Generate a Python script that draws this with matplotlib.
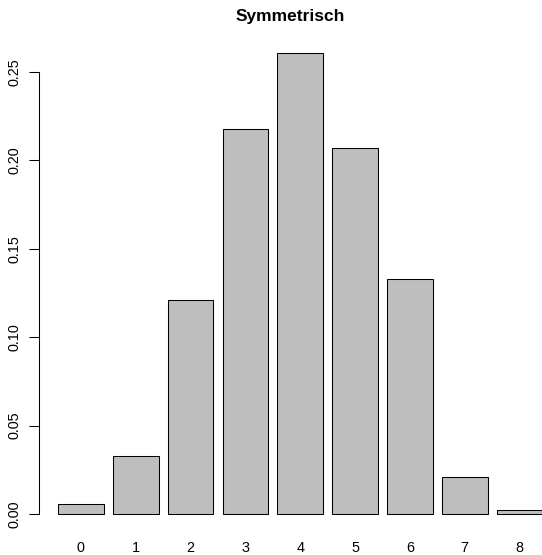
import numpy as np
import matplotlib.pyplot as plt

categories = ["0", "1", "2", "3", "4", "5", "6", "7", "8"]
values = [0.0057, 0.0328, 0.121, 0.218, 0.261, 0.207, 0.133, 0.021, 0.0023]
yticks = [0.00, 0.05, 0.10, 0.15, 0.20, 0.25]

plt.rcParams['font.family'] = ['Liberation Sans', 'DejaVu Sans']

fig = plt.figure(figsize=(5.42, 5.55), dpi=100)
# axes placed like R's plot region (right side runs past the image edge)
ax = fig.add_axes([38.6 / 542, 25 / 555, 523.2 / 542, 490 / 555])

# R barplot: width 1, space 0.2
x = 0.7 + 1.2 * np.arange(len(values))
ax.bar(x, values, width=1.0, color="#bebebe", edgecolor="black", linewidth=0.75)

ax.set_xlim(-0.224, 11.224)
ax.set_ylim(-0.00905, 0.2681)

for s in ["top", "right", "bottom"]:
    ax.spines[s].set_visible(False)
ax.spines["left"].set_bounds(0, 0.25)
ax.spines["left"].set_linewidth(0.75)

ax.set_yticks(yticks)
ax.set_yticklabels(["%.2f" % v for v in yticks], rotation=90, va="center")
ax.tick_params(axis="y", length=7.2, width=0.75, pad=5, labelsize=10.4)

ax.set_xticks(x)
ax.set_xticklabels(categories)
ax.tick_params(axis="x", length=0, pad=8, labelsize=10.4)

fig.text(290 / 542, 1 - 16 / 555, "Symmetrisch", ha="center", va="center",
         fontsize=12.5, fontweight="bold")

fig.savefig("out.png", dpi=100)
